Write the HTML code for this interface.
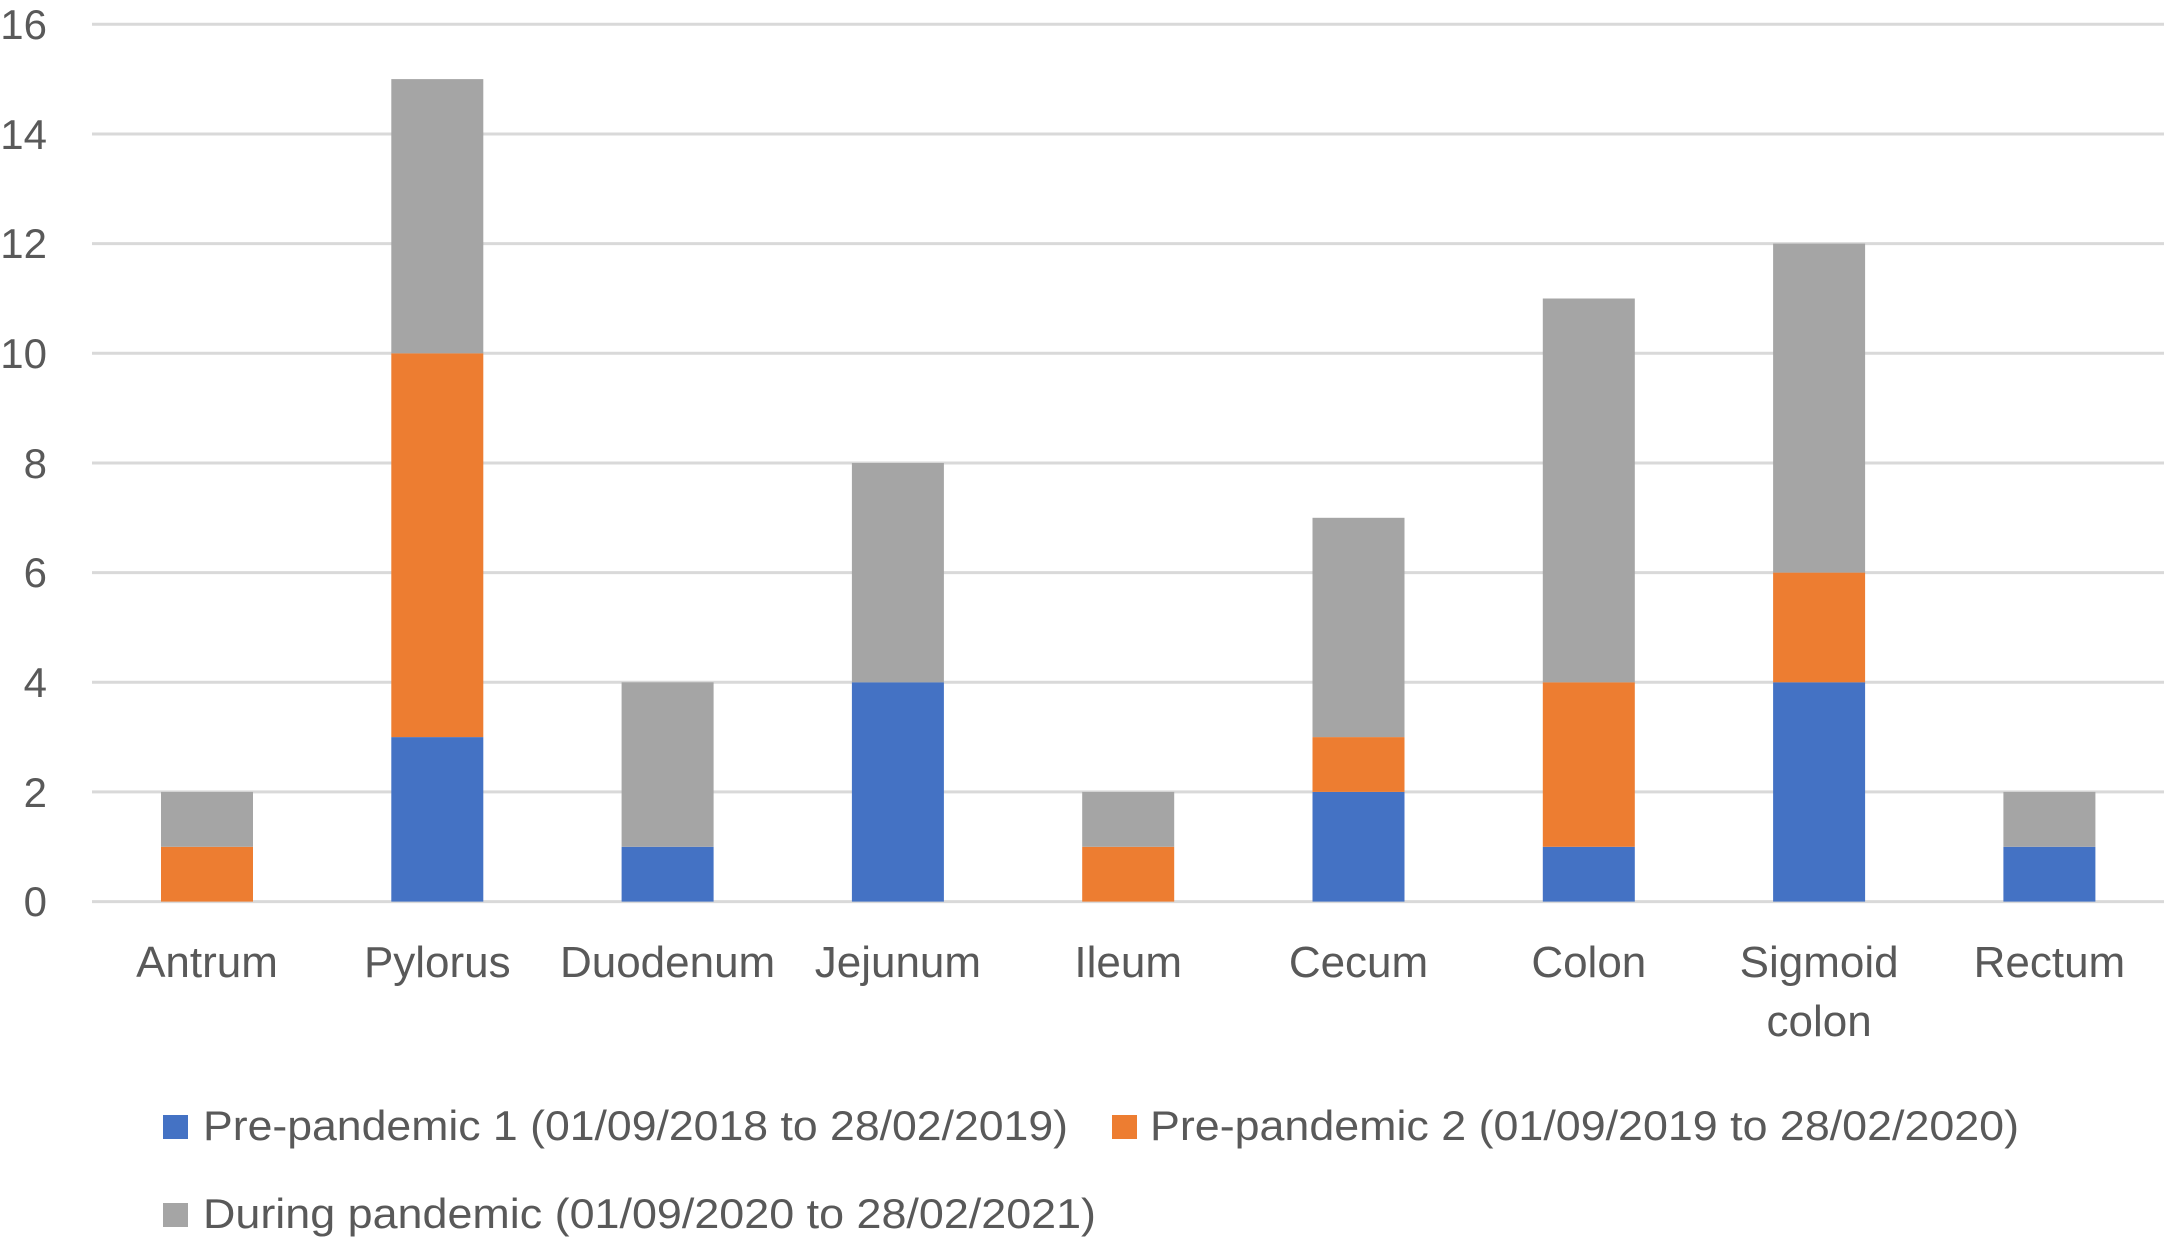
<!DOCTYPE html>
<html><head><meta charset="utf-8"><style>html,body{margin:0;padding:0;background:#fff}svg{display:block}</style></head>
<body>
<svg width="2167" height="1239" viewBox="0 0 2167 1239" xmlns="http://www.w3.org/2000/svg" font-family="Liberation Sans, sans-serif" fill="#595959">
<g stroke="#d9d9d9" stroke-width="3">
<line x1="92" x2="2164" y1="24.3" y2="24.3"/>
<line x1="92" x2="2164" y1="134" y2="134"/>
<line x1="92" x2="2164" y1="243.6" y2="243.6"/>
<line x1="92" x2="2164" y1="353.3" y2="353.3"/>
<line x1="92" x2="2164" y1="462.96" y2="462.96"/>
<line x1="92" x2="2164" y1="572.6" y2="572.6"/>
<line x1="92" x2="2164" y1="682.3" y2="682.3"/>
<line x1="92" x2="2164" y1="791.9" y2="791.9"/>
<line x1="92" x2="2164" y1="901.6" y2="901.6"/>
</g>
<g font-size="42" text-anchor="end">
<text x="47" y="39">16</text><text x="47" y="149">14</text><text x="47" y="258">12</text><text x="47" y="368">10</text><text x="47" y="478">8</text><text x="47" y="587">6</text><text x="47" y="697">4</text><text x="47" y="807">2</text><text x="47" y="916">0</text>
</g>
<rect x="161" y="846.8" width="92" height="54.8" fill="#ed7d31"/><rect x="161" y="791.9" width="92" height="54.9" fill="#a5a5a5"/>
<rect x="391.3" y="737.1" width="92" height="164.5" fill="#4472c4"/><rect x="391.3" y="353.3" width="92" height="383.8" fill="#ed7d31"/><rect x="391.3" y="79.1" width="92" height="274.2" fill="#a5a5a5"/>
<rect x="621.6" y="846.8" width="92" height="54.8" fill="#4472c4"/><rect x="621.6" y="682.3" width="92" height="164.5" fill="#a5a5a5"/>
<rect x="851.9" y="682.3" width="92" height="219.3" fill="#4472c4"/><rect x="851.9" y="462.96" width="92" height="219.34" fill="#a5a5a5"/>
<rect x="1082.2" y="846.8" width="92" height="54.8" fill="#ed7d31"/><rect x="1082.2" y="791.9" width="92" height="54.9" fill="#a5a5a5"/>
<rect x="1312.5" y="791.9" width="92" height="109.7" fill="#4472c4"/><rect x="1312.5" y="737.1" width="92" height="54.8" fill="#ed7d31"/><rect x="1312.5" y="517.8" width="92" height="219.3" fill="#a5a5a5"/>
<rect x="1542.8" y="846.8" width="92" height="54.8" fill="#4472c4"/><rect x="1542.8" y="682.3" width="92" height="164.5" fill="#ed7d31"/><rect x="1542.8" y="298.5" width="92" height="383.8" fill="#a5a5a5"/>
<rect x="1773.1" y="682.3" width="92" height="219.3" fill="#4472c4"/><rect x="1773.1" y="572.6" width="92" height="109.7" fill="#ed7d31"/><rect x="1773.1" y="243.6" width="92" height="329" fill="#a5a5a5"/>
<rect x="2003.4" y="846.8" width="92" height="54.8" fill="#4472c4"/><rect x="2003.4" y="791.9" width="92" height="54.9" fill="#a5a5a5"/>
<g font-size="44" text-anchor="middle">
<text x="207" y="977">Antrum</text>
<text x="437.3" y="977">Pylorus</text>
<text x="667.6" y="977">Duodenum</text>
<text x="897.9" y="977">Jejunum</text>
<text x="1128.2" y="977">Ileum</text>
<text x="1358.5" y="977">Cecum</text>
<text x="1588.8" y="977">Colon</text>
<text x="1819.1" y="977">Sigmoid</text>
<text x="1819.1" y="1036">colon</text>
<text x="2049.4" y="977">Rectum</text>
</g>
<rect x="163" y="1115" width="25" height="24" fill="#4472c4"/>
<text x="203" y="1140" font-size="42" textLength="865" lengthAdjust="spacingAndGlyphs">Pre-pandemic 1 (01/09/2018 to 28/02/2019)</text>
<rect x="1112" y="1115" width="25" height="24" fill="#ed7d31"/>
<text x="1150" y="1140" font-size="42" textLength="869" lengthAdjust="spacingAndGlyphs">Pre-pandemic 2 (01/09/2019 to 28/02/2020)</text>
<rect x="163" y="1203" width="25" height="24" fill="#a5a5a5"/>
<text x="203" y="1228" font-size="42" textLength="893" lengthAdjust="spacingAndGlyphs">During pandemic (01/09/2020 to 28/02/2021)</text>
</svg>
</body></html>
